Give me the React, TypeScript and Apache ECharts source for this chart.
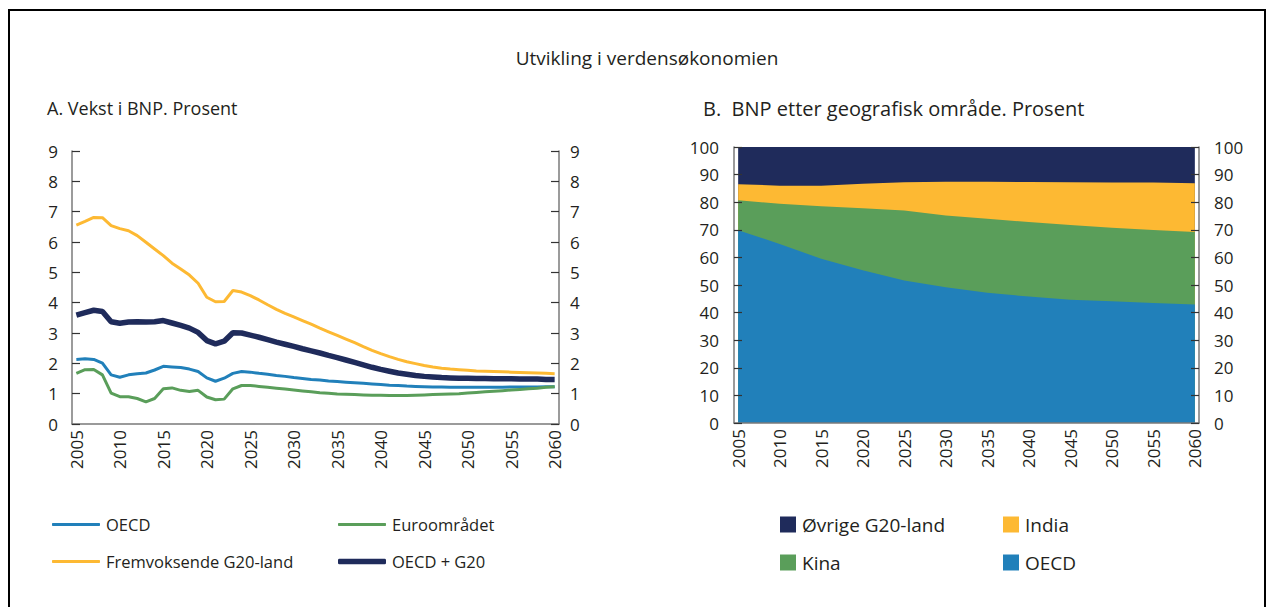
import React, { useEffect, useRef } from "react";
import * as echarts from "echarts";

const years = [
  "2005", "2006", "2007", "2008", "2009", "2010", "2011", "2012", "2013", "2014",
  "2015", "2016", "2017", "2018", "2019", "2020", "2021", "2022", "2023", "2024",
  "2025", "2026", "2027", "2028", "2029", "2030", "2031", "2032", "2033", "2034",
  "2035", "2036", "2037", "2038", "2039", "2040", "2041", "2042", "2043", "2044",
  "2045", "2046", "2047", "2048", "2049", "2050", "2051", "2052", "2053", "2054",
  "2055", "2056", "2057", "2058", "2059", "2060",
];

const oecdGrowth = [
  2.13, 2.15, 2.13, 2.01, 1.62, 1.54, 1.62, 1.66, 1.68, 1.78,
  1.9, 1.88, 1.86, 1.81, 1.73, 1.52, 1.41, 1.51, 1.67, 1.73,
  1.71, 1.67, 1.64, 1.6, 1.57, 1.53, 1.5, 1.47, 1.45, 1.42,
  1.4, 1.38, 1.36, 1.34, 1.32, 1.3, 1.28, 1.27, 1.25, 1.24,
  1.23, 1.22, 1.22, 1.21, 1.21, 1.21, 1.21, 1.21, 1.21, 1.21,
  1.22, 1.22, 1.22, 1.22, 1.23, 1.23,
];
const euroGrowth = [
  1.67, 1.79, 1.8, 1.62, 1.02, 0.9, 0.9, 0.84, 0.73, 0.84,
  1.16, 1.19, 1.11, 1.07, 1.11, 0.89, 0.8, 0.82, 1.16, 1.27,
  1.27, 1.24, 1.21, 1.18, 1.15, 1.12, 1.09, 1.06, 1.03, 1.01,
  0.99, 0.98, 0.97, 0.96, 0.95, 0.95, 0.94, 0.94, 0.94, 0.95,
  0.96, 0.97, 0.98, 0.99, 1.0, 1.02, 1.04, 1.06, 1.08, 1.1,
  1.12, 1.14, 1.16, 1.18, 1.21, 1.23,
];
const emergingGrowth = [
  6.56, 6.68, 6.81, 6.8, 6.54, 6.44, 6.37, 6.21, 5.99, 5.77,
  5.55, 5.3, 5.11, 4.91, 4.64, 4.18, 4.03, 4.04, 4.4, 4.35,
  4.23, 4.09, 3.93, 3.78, 3.65, 3.53, 3.41, 3.29, 3.16, 3.04,
  2.92, 2.8, 2.68, 2.55, 2.43, 2.32, 2.22, 2.13, 2.05, 1.99,
  1.93, 1.88, 1.84, 1.81, 1.79, 1.77, 1.75, 1.74, 1.73, 1.72,
  1.71, 1.7, 1.69, 1.68, 1.67, 1.66,
];
const oecdG20Growth = [
  3.59, 3.67, 3.75, 3.71, 3.37, 3.32, 3.36, 3.37, 3.36, 3.37,
  3.41, 3.33, 3.25, 3.16, 3.02, 2.75, 2.64, 2.73, 3.01, 3.0,
  2.93, 2.86, 2.78, 2.7, 2.63, 2.56, 2.48, 2.41, 2.34, 2.26,
  2.19, 2.11, 2.03, 1.95, 1.87, 1.8, 1.74, 1.68, 1.64, 1.6,
  1.57, 1.55, 1.53, 1.52, 1.51, 1.51, 1.5, 1.5, 1.49, 1.49,
  1.49, 1.48, 1.48, 1.48, 1.47, 1.47,
];

const shareYears = [2005, 2010, 2015, 2020, 2025, 2030, 2035, 2040, 2045, 2050, 2055, 2060];
const shareOECD = [69.8, 64.9, 59.5, 55.3, 51.6, 49.2, 47.2, 45.8, 44.7, 44.1, 43.5, 42.9];
const shareKina = [10.9, 14.5, 19.0, 22.5, 25.4, 26.0, 26.8, 27.0, 27.0, 26.6, 26.4, 26.3];
const shareIndia = [5.8, 6.6, 7.5, 8.9, 10.2, 12.2, 13.4, 14.5, 15.5, 16.4, 17.2, 17.7];
const shareOther = [13.5, 14.0, 14.0, 13.3, 12.8, 12.6, 12.6, 12.7, 12.8, 12.9, 12.9, 13.1];

const FONT = "'Open Sans', 'Noto Sans', sans-serif";
const TXT = "#231f20";
const NAVY = "#1f2b5b";
const YELLOW = "#fdb933";
const GREEN = "#5a9e5a";
const BLUE = "#2180ba";
const AXIS = "#7a7a7a";

// cumulative stacking built from the share arrays (bottom to top)
const cumulate = (layers: number[][]) =>
  layers.map((_, k) =>
    shareYears.map((yr, i) => [yr, +layers.slice(0, k + 1).reduce((s, l) => s + l[i], 0).toFixed(2)])
  );

export default function App() {
  const ref = useRef<HTMLDivElement>(null);
  useEffect(() => {
    if (!ref.current) return;
    const chart = echarts.init(ref.current, undefined, { renderer: "svg" });
    const [cOECD, cKina, cIndia, cOther] = cumulate([shareOECD, shareKina, shareIndia, shareOther]);
    const yLabel = (margin: number) => ({
      fontSize: 17,
      color: TXT,
      fontFamily: FONT,
      margin,
    });
    const yAxisBase = {
      type: "value" as const,
      splitLine: { show: false },
      axisLine: { show: true, lineStyle: { color: AXIS, width: 1.5 } },
      axisTick: { show: true, inside: true, length: 8, lineStyle: { color: "#333", width: 1.2 } },
      z: 5,
    };
    const xLabel = {
      rotate: 90,
      fontSize: 17,
      color: TXT,
      fontFamily: FONT,
      margin: 6,
    };
    const legendText = { fontSize: 16.5, color: TXT, fontFamily: FONT, lineHeight: 16, padding: [0, 0, 0, 1] };
    const lineLegend = (name: string, left: number, top: number, h: number) => ({
      data: [name],
      left,
      top,
      icon: "roundRect",
      itemWidth: 48,
      itemHeight: h,
      textStyle: legendText,
      selectedMode: false,
    });
    const boxLegend = (names: string[], left: number) => ({
      data: names,
      orient: "vertical",
      left,
      top: 510,
      icon: "rect",
      itemWidth: 16,
      itemHeight: 16,
      itemGap: 19,
      textStyle: { ...legendText, fontSize: 19, lineHeight: 18, padding: [0, 0, 0, 1] },
      formatter: (n: string) => (n === "OECD_B" ? "OECD" : n),
      selectedMode: false,
    });
    const area = (name: string, color: string, data: number[][]) => ({
      name,
      type: "line",
      xAxisIndex: 1,
      yAxisIndex: 2,
      data,
      symbol: "none",
      color,
      lineStyle: { width: 0 },
      areaStyle: { color, opacity: 1, origin: "start" },
    });
    const line = (name: string, color: string, data: number[], width: number) => ({
      name,
      type: "line",
      xAxisIndex: 0,
      yAxisIndex: 0,
      data,
      symbol: "none",
      color,
      lineStyle: { color, width },
    });
    chart.setOption({
      animation: false,
      backgroundColor: "#ffffff",
      graphic: [
        {
          type: "rect",
          silent: true,
          shape: { x: 9, y: 10, width: 1256, height: 650 },
          style: { fill: "none", stroke: "#000", lineWidth: 2 },
        },
        {
          type: "text",
          x: 647,
          y: 58,
          style: { text: "Utvikling i verdensøkonomien", fontSize: 19, fontFamily: FONT, fill: TXT, align: "center", verticalAlign: "middle" },
        },
        {
          type: "text",
          x: 47,
          y: 108,
          style: { text: "A. Vekst i BNP. Prosent", fontSize: 18, fontFamily: FONT, fill: TXT, align: "left", verticalAlign: "middle" },
        },
        {
          type: "text",
          x: 703,
          y: 108,
          style: { text: "B.  BNP etter geografisk område. Prosent", fontSize: 20, fontFamily: FONT, fill: TXT, align: "left", verticalAlign: "middle" },
        },
      ],
      grid: [
        { left: 72, top: 151, width: 487, height: 273 },
        { left: 734, top: 147, width: 465, height: 276 },
      ],
      xAxis: [
        {
          gridIndex: 0,
          type: "category",
          data: years,
          boundaryGap: true,
          axisLine: { lineStyle: { color: AXIS, width: 1.5 } },
          axisTick: { show: false },
          axisLabel: { ...xLabel, interval: 4 },
        },
        {
          gridIndex: 1,
          type: "value",
          min: 2004.5,
          max: 2060.5,
          splitLine: { show: false },
          axisLine: { show: true, onZero: false, lineStyle: { color: AXIS, width: 1.5 } },
          axisTick: { show: false },
          axisLabel: { ...xLabel, customValues: shareYears, formatter: (v: number) => String(v) },
          z: 5,
        },
      ],
      yAxis: [
        { ...yAxisBase, gridIndex: 0, position: "left", min: 0, max: 9, interval: 1, axisLabel: yLabel(14) },
        { ...yAxisBase, gridIndex: 0, position: "right", min: 0, max: 9, interval: 1, axisLabel: yLabel(11) },
        { ...yAxisBase, gridIndex: 1, position: "left", min: 0, max: 100, interval: 10, axisLabel: yLabel(15) },
        { ...yAxisBase, gridIndex: 1, position: "right", min: 0, max: 100, interval: 10, axisLabel: yLabel(15) },
      ],
      legend: [
        lineLegend("OECD", 47, 511, 3),
        lineLegend("Fremvoksende G20-land", 47, 548, 3),
        lineLegend("Euroområdet", 333, 511, 3),
        lineLegend("OECD + G20", 333, 548, 5.5),
        boxLegend(["Øvrige G20-land", "Kina"], 775),
        boxLegend(["India", "OECD_B"], 998),
      ],
      series: [
        line("OECD", BLUE, oecdGrowth, 3),
        line("Euroområdet", GREEN, euroGrowth, 3),
        line("Fremvoksende G20-land", YELLOW, emergingGrowth, 3),
        line("OECD + G20", NAVY, oecdG20Growth, 5.5),
        area("Øvrige G20-land", NAVY, cOther),
        area("India", YELLOW, cIndia),
        area("Kina", GREEN, cKina),
        area("OECD_B", BLUE, cOECD),
      ],
    });
    return () => chart.dispose();
  }, []);
  return (
    <div
      ref={ref}
      style={{ position: "fixed", left: 0, top: 0, width: 1273, height: 607, background: "#fff" }}
    />
  );
}
